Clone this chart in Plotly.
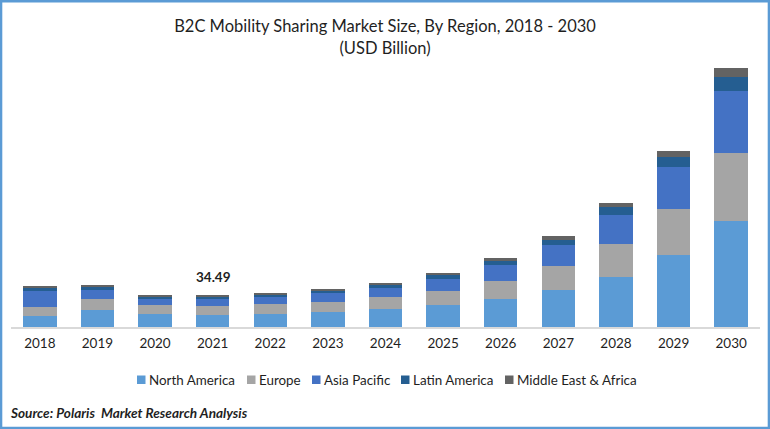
import plotly.graph_objects as go

years = ['2018', '2019', '2020', '2021', '2022', '2023', '2024',
         '2025', '2026', '2027', '2028', '2029', '2030']
north_america = [11.9, 18.3, 14.0, 12.93, 14.0, 16.2, 19.4, 23.7, 30.2, 39.9, 53.9, 77.6, 114.3]
europe = [9.7, 11.9, 9.7, 9.7, 10.8, 10.8, 12.9, 15.1, 19.4, 25.9, 35.6, 49.6, 73.3]
asia_pacific = [17.2, 9.7, 6.5, 7.55, 7.5, 9.7, 9.7, 12.9, 17.2, 22.6, 31.3, 45.3, 66.8]
latin_america = [3.2, 3.2, 3.2, 2.15, 2.2, 2.2, 3.2, 4.3, 4.3, 5.4, 8.6, 10.8, 15.1]
middle_east = [2.2, 2.2, 1.1, 2.16, 2.2, 2.2, 2.2, 2.2, 3.2, 4.3, 4.3, 6.5, 9.7]

W, H = 770, 429
L, R, T, B = 11, 10, 50, 102
FONT = 'Lato'
TEXT = '#1F1F1F'


def px(x):
    return (x - L) / (W - L - R)


def py(y):
    return 1 - (y - T) / (H - T - B)


series = [
    ('North America', north_america, '#5B9BD5', 137),
    ('Europe', europe, '#A5A5A5', 247),
    ('Asia Pacific', asia_pacific, '#4472C4', 312),
    ('Latin America', latin_america, '#255E91', 401),
    ('Middle East & Africa', middle_east, '#636363', 505),
]

fig = go.Figure()
for name, vals, col, _ in series:
    fig.add_trace(go.Bar(x=years, y=vals, name=name, marker_color=col, marker_line_width=0))

annotations = [
    # numeric looking category strings get read as positions, so use the index
    dict(x=years.index('2021'),
         y=north_america[3] + europe[3] + asia_pacific[3] + latin_america[3] + middle_east[3],
         text='<b>34.49</b>', showarrow=False, yanchor='bottom', yshift=8, xshift=1,
         font=dict(size=13.5, color=TEXT)),
    dict(xref='paper', yref='paper', x=px(8), y=py(413), xanchor='left', yanchor='middle',
         text='<b><i>Source: Polaris  Market Research Analysis</i></b>', showarrow=False,
         font=dict(size=13.6, color=TEXT)),
]
shapes = [
    dict(type='rect', xref='paper', yref='paper', x0=px(1.1), x1=px(768.9), y0=py(427.9), y1=py(1.2),
         line=dict(color='#5B9BD5', width=2.4), layer='above'),
]
# legend drawn by hand, plotly's own puts too much space round the swatch
for name, _, col, x in series:
    shapes.append(dict(type='rect', xref='paper', yref='paper', x0=px(x), x1=px(x + 8.5),
                       y0=py(384), y1=py(375.5), fillcolor=col, line_width=0))
    annotations.append(dict(xref='paper', yref='paper', x=px(x + 10), y=py(379.5),
                            xanchor='left', yanchor='middle', text=name, showarrow=False,
                            font=dict(size=13.4, color=TEXT)))

fig.update_layout(
    width=W, height=H,
    margin=dict(l=L, r=R, t=T, b=B, autoexpand=False),
    paper_bgcolor='white', plot_bgcolor='white',
    barmode='stack', bargap=0.42, showlegend=False,
    font=dict(family=FONT, color=TEXT, size=13),
    title=dict(
        text='B2C Mobility Sharing Market Size, By Region, 2018 - 2030<br>(USD Billion)',
        x=0.5, xanchor='center', y=0.925, yanchor='middle',
        font=dict(size=16.5, family=FONT, color=TEXT),
    ),
    xaxis=dict(type='category', showline=True, linecolor='#D9D9D9', linewidth=2, ticks='',
               tickfont=dict(size=13.5), ticklabelstandoff=3, fixedrange=True),
    yaxis=dict(visible=False, range=[0, 298.6], fixedrange=True),
    annotations=annotations,
    shapes=shapes,
)

fig.write_html('out.html', config={'displayModeBar': False},
               post_script="document.body.style.margin='0';document.body.style.overflow='hidden';")
